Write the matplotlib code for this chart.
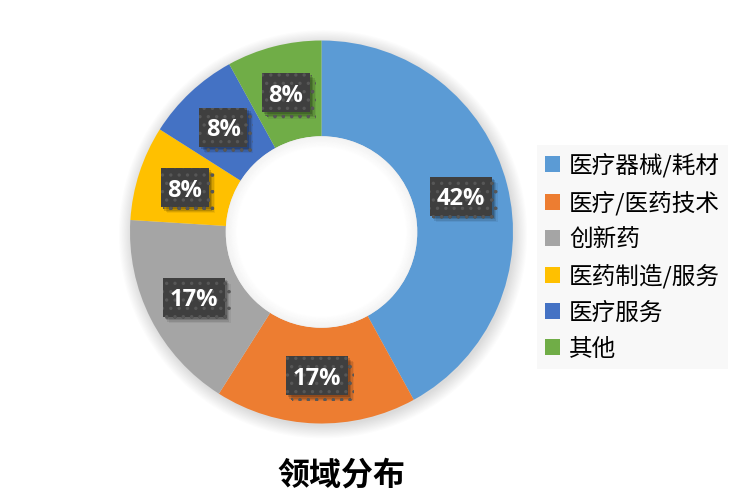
import matplotlib
matplotlib.use("Agg")
import matplotlib.pyplot as plt
import matplotlib.patheffects as pe
import matplotlib.transforms as mtransforms
from matplotlib.patches import Circle, Wedge, Patch, Rectangle
import numpy as np

categories = ["医疗器械/耗材", "医疗/医药技术", "创新药", "医药制造/服务", "医疗服务", "其他"]
shares = [42, 17, 17, 8, 8, 8]
colors = ["#5B9BD5", "#ED7D31", "#A5A5A5", "#FFC000", "#4472C4", "#70AD47"]
title = "领域分布"

W, H = 748, 499
fig = plt.figure(figsize=(W / 100, H / 100), dpi=100)
fig.patch.set_facecolor("white")

# ring geometry in pixels
cx, cy, R = 321.5, 232.0, 191.5
lim = 1.12
side = 2 * lim * R
ax = fig.add_axes([(cx - side / 2) / W, (H - cy - side / 2) / H, side / W, side / H])

# soft outer shadow
for k in range(12):
    ax.add_patch(Circle((0.008, -0.012), 1.0 + 0.006 * k, facecolor="black",
                        edgecolor="none", alpha=0.010, zorder=0))

wedges, _ = ax.pie(shares, colors=colors, startangle=90, counterclock=False,
                   radius=1.0, wedgeprops=dict(width=0.5, linewidth=0))

# hole: white disc with a faint inner shadow at the rim
ax.add_patch(Circle((0, 0), 0.5, facecolor="white", edgecolor="none", zorder=3))
n = 10
for k in range(n):
    r_out = 0.5 - 0.006 * k
    ax.add_patch(Wedge((0, 0), r_out, 0, 360, width=0.006, facecolor="black",
                       edgecolor="none", alpha=0.05 * (1 - k / n), zorder=4))

ax.set_xlim(-lim, lim)
ax.set_ylim(-lim, lim)
ax.set_aspect("equal")
ax.axis("off")

# percentage tags on each segment: fixed-size dark box centred on the segment
shadow = [pe.SimplePatchShadow(offset=(1.5, -1.5), shadow_rgbFace="black", alpha=0.16),
          pe.SimplePatchShadow(offset=(2.5, -2.5), shadow_rgbFace="black", alpha=0.14),
          pe.SimplePatchShadow(offset=(3.5, -3.5), shadow_rgbFace="black", alpha=0.10),
          pe.SimplePatchShadow(offset=(4.5, -4.5), shadow_rgbFace="black", alpha=0.06),
          pe.Normal()]
plt.rcParams["hatch.linewidth"] = 1.2
for w, v in zip(wedges, shares):
    mid = np.deg2rad((w.theta1 + w.theta2) / 2)
    x, y = 0.75 * np.cos(mid), 0.75 * np.sin(mid)
    label = f"{v}%"
    bw = 0.62 if v >= 10 else 0.48
    bh = 0.39
    trans = fig.dpi_scale_trans + mtransforms.ScaledTranslation(x, y, ax.transData)
    box = Rectangle((-bw / 2, -bh / 2), bw, bh, transform=trans,
                    facecolor="#3f3f3f", edgecolor="#575757", linewidth=0,
                    hatch="..", zorder=5)
    box.set_path_effects(shadow)
    ax.add_patch(box)
    ax.text(x, y, label, ha="center", va="center_baseline", color="white",
            fontsize=17, fontweight="bold", family="Open Sans", zorder=6)

# legend
handles = [Patch(facecolor=c, edgecolor="none") for c in colors]
leg = fig.legend(handles, categories, loc="upper left",
                 bbox_to_anchor=(537 / W, 1 - 145 / H),
                 prop=dict(family="Noto Sans CJK SC", size=17),
                 frameon=True, fancybox=False, borderpad=0.34,
                 labelspacing=0.55, handlelength=0.64, handleheight=0.64,
                 handletextpad=0.38, borderaxespad=0)
leg.get_frame().set_facecolor("#f7f7f7")
leg.get_frame().set_edgecolor("none")

fig.text(341 / W, 1 - 476 / H, title, ha="center", va="center",
         family="Noto Sans CJK SC", fontweight="heavy", fontsize=23, color="black")

fig.savefig("out.png", dpi=100)
